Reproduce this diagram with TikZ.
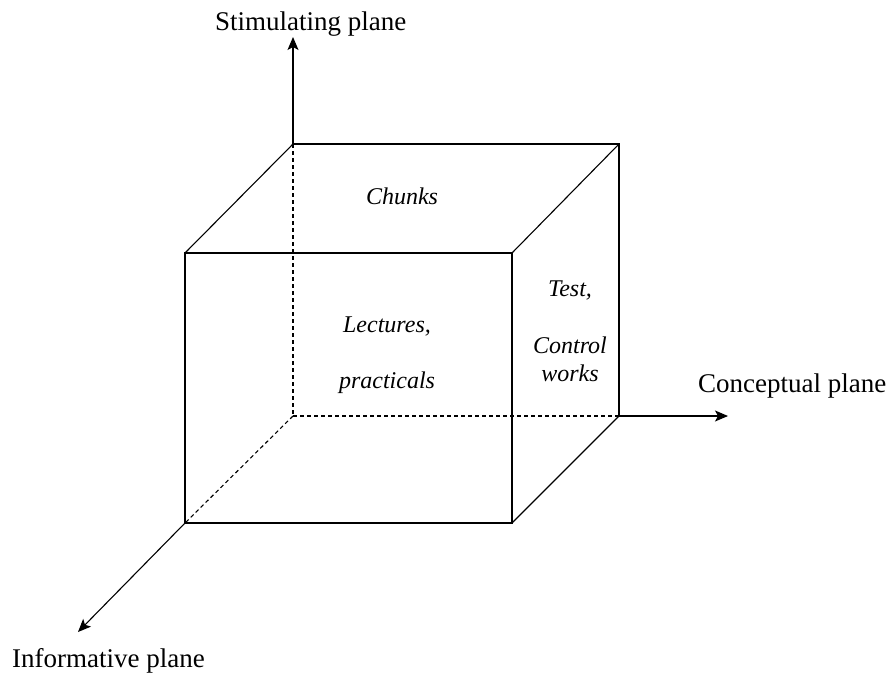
\documentclass[tikz,border=0pt]{standalone}
\usepackage{fontspec}
\setmainfont{Liberation Serif}[ItalicFont={Liberation Serif Italic}]
\usetikzlibrary{arrows.meta,positioning}

\begin{document}
\begin{tikzpicture}[x=1pt, y=-1pt,
  edge/.style={draw, line width=1.1pt},
  hidden/.style={draw, line width=1.1pt, dash pattern=on 4pt off 3pt},
  axis/.style={draw, line width=1.1pt,
               -{Stealth[length=13pt, width=11pt, inset=3pt]}},
  axislabel/.style={font=\fontsize{27}{32}\selectfont, inner sep=0pt,
                    anchor=base west},
  facetext/.style={font=\fontsize{24}{28}\selectfont\itshape, inner sep=0pt,
                   align=center},
]
  \useasboundingbox (0,0) rectangle (890,672);

  % ========= CUBE CORNERS =========
  \coordinate (origin) at (293,416);
  \coordinate (btl) at (293,144);
  \coordinate (btr) at (619,144);
  \coordinate (bbr) at (619,416);
  \coordinate (ftl) at (185,253);
  \coordinate (ftr) at (512,253);
  \coordinate (fbl) at (185,523);
  \coordinate (fbr) at (512,523);

  % Axis ends
  \coordinate (stimend) at (293,37);
  \coordinate (concend) at (728,416);
  \coordinate (infoend) at (78,632);

  % ========= HIDDEN EDGES =========
  \draw[hidden] (btl) -- (origin);
  \draw[hidden] (origin) -- (bbr);
  \draw[hidden] (origin) -- (fbl);

  % ========= VISIBLE EDGES =========
  \draw[edge] (btl) -- (btr) -- (bbr);
  \draw[edge] (ftl) -- (ftr) -- (fbr) -- (fbl) -- cycle;
  \draw[edge] (ftl) -- (btl);
  \draw[edge] (ftr) -- (btr);
  \draw[edge] (fbr) -- (bbr);

  % ========= AXES =========
  \draw[axis] (btl) -- (stimend);
  \draw[axis] (bbr) -- (concend);
  \draw[axis] (fbl) -- (infoend);

  \node[axislabel] (stimlabel) at (215,30) {Stimulating plane};
  \node[axislabel] (conclabel) at (698,392) {Conceptual plane};
  \node[axislabel] (infolabel) at (12,667) {Informative plane};

  % ========= FACE TEXTS =========
  \node[facetext] (chunks) at (402,196) {Chunks};
  \node[facetext] (lectures) at (387,355) {Lectures,\\[28pt]practicals};
  \node[facetext] (tests) at (570,331) {Test,\\[29pt]Control\\works};

\end{tikzpicture}
\end{document}
